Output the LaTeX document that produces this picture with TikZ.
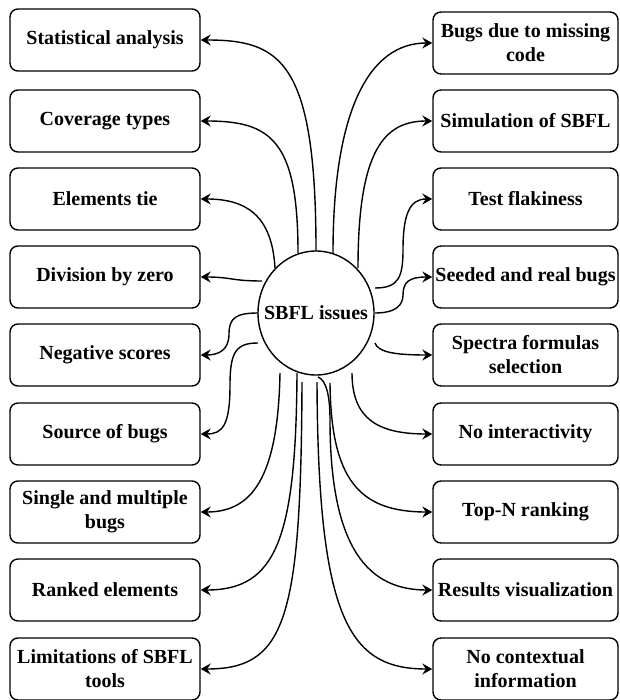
\documentclass[tikz,border=0pt]{standalone}
\usepackage{fontspec}
\setmainfont{Liberation Serif}
\usetikzlibrary{arrows.meta,shapes.geometric}

\begin{document}
\begin{tikzpicture}[x=1pt,y=-1pt,
  label font/.style={font=\fontsize{20}{24}\selectfont\bfseries},
  issue/.style={draw, rounded corners=8pt, line width=1.4pt, minimum height=62pt,
    align=center, inner sep=0pt, label font},
  lbox/.style={issue, minimum width=190pt},
  rbox/.style={issue, minimum width=185pt},
  hub/.style={draw, ellipse, line width=1.4pt, minimum width=116pt, minimum height=124pt,
    inner sep=0pt},
  link/.style={line width=1.4pt, -{Stealth[length=10pt,width=11pt,inset=3.5pt]}},
]
\useasboundingbox (0,0) rectangle (619,700);

% central topic: the outline and its caption
\node[hub] (c) at (316,313) {};
\node[label font, inner sep=0pt] (ctext) at (c.center) {SBFL issues};

% left column
\node[lbox] (l1) at (105,40)  {Statistical analysis};
\node[lbox] (l2) at (105,121) {Coverage types};
\node[lbox] (l3) at (105,199) {Elements tie};
\node[lbox] (l4) at (105,277) {Division by zero};
\node[lbox] (l5) at (105,355) {Negative scores};
\node[lbox] (l6) at (105,434) {Source of bugs};
\node[lbox] (l7) at (105,512) {Single and multiple\\bugs};
\node[lbox] (l8) at (105,590) {Ranked elements};
\node[lbox] (l9) at (105,669) {Limitations of SBFL\\tools};

% right column
\node[rbox] (r1) at (525.5,43)  {Bugs due to missing\\code};
\node[rbox] (r2) at (525.5,121) {Simulation of SBFL};
\node[rbox] (r3) at (525.5,199) {Test flakiness};
\node[rbox] (r4) at (525.5,277) {Seeded and real bugs};
\node[rbox] (r5) at (525.5,355) {Spectra formulas\\selection};
\node[rbox] (r6) at (525.5,434) {No interactivity};
\node[rbox] (r7) at (525.5,512) {Top-N ranking};
\node[rbox] (r8) at (525.5,590) {Results visualization};
\node[rbox] (r9) at (525.5,669) {No contextual\\information};

% connectors to the left column
\draw[link] ([shift={(0,-62)}]c.center) .. controls +(0,-190) and +(80,0) .. (l1.east);
\draw[link] ([shift={(-18,-60)}]c.center) .. controls +(0,-113) and +(70,0) .. (l2.east);
\draw[link] ([shift={(-41,-45)}]c.center) .. controls +(-3,-53) and +(45,0) .. (l3.east);
\draw[link] ([shift={(-54,-32)}]c.center) .. controls +(-30,0) and +(30,0) .. (l4.east);
\draw[link] ([shift={(-58,0)}]c.center) .. controls +(-22,0) and +(0,-16) .. (229,334)
  .. controls +(0,16) and +(18,0) .. (l5.east);
\draw[link] ([shift={(-58,30)}]c.center) .. controls +(-22,0) and +(0,-33) .. (230,385)
  .. controls +(0,40) and +(22,0) .. (l6.east);
\draw[link] ([shift={(-36,60)}]c.center) .. controls +(-2,107) and +(50,0) .. (l7.east);
\draw[link] ([shift={(-19,60)}]c.center) .. controls +(-1,167) and +(75,0) .. (l8.east);
\draw[link] ([shift={(-14,69)}]c.center) .. controls +(-1,238) and +(85,0) .. (l9.east);

% connectors to the right column
\draw[link] ([shift={(17,-60)}]c.center) .. controls +(0,-143) and +(-63,0) .. (r1.west);
\draw[link] ([shift={(42,-45)}]c.center) .. controls +(0,-118) and +(-48,0) .. (r2.west);
\draw[link] ([shift={(59,-25)}]c.center) .. controls +(23,0) and +(0,28) .. (403,250)
  .. controls +(0,-35) and +(-23,0) .. (r3.west);
\draw[link] ([shift={(59,0)}]c.center) .. controls +(21,0) and +(0,10) .. (403,295)
  .. controls +(0,-13) and +(-23,0) .. (r4.west);
\draw[link] ([shift={(59,30)}]c.center) .. controls +(3,9) and +(-38,0) .. (r5.west);
\draw[link] ([shift={(36,60)}]c.center) .. controls +(0,47) and +(-53,0) .. (r6.west);
\draw[link] ([shift={(14,70)}]c.center) .. controls +(1,97) and +(-73,0) .. (r7.west);
\draw[link] ([shift={(2,64)}]c.center) .. controls +(8,3) and +(0,-25) .. (330,420)
  .. controls +(0,130) and +(-63,0) .. (r8.west);
\draw[link] ([shift={(1,69)}]c.center) .. controls +(1,238) and +(-83,0) .. (r9.west);
\end{tikzpicture}
\end{document}
